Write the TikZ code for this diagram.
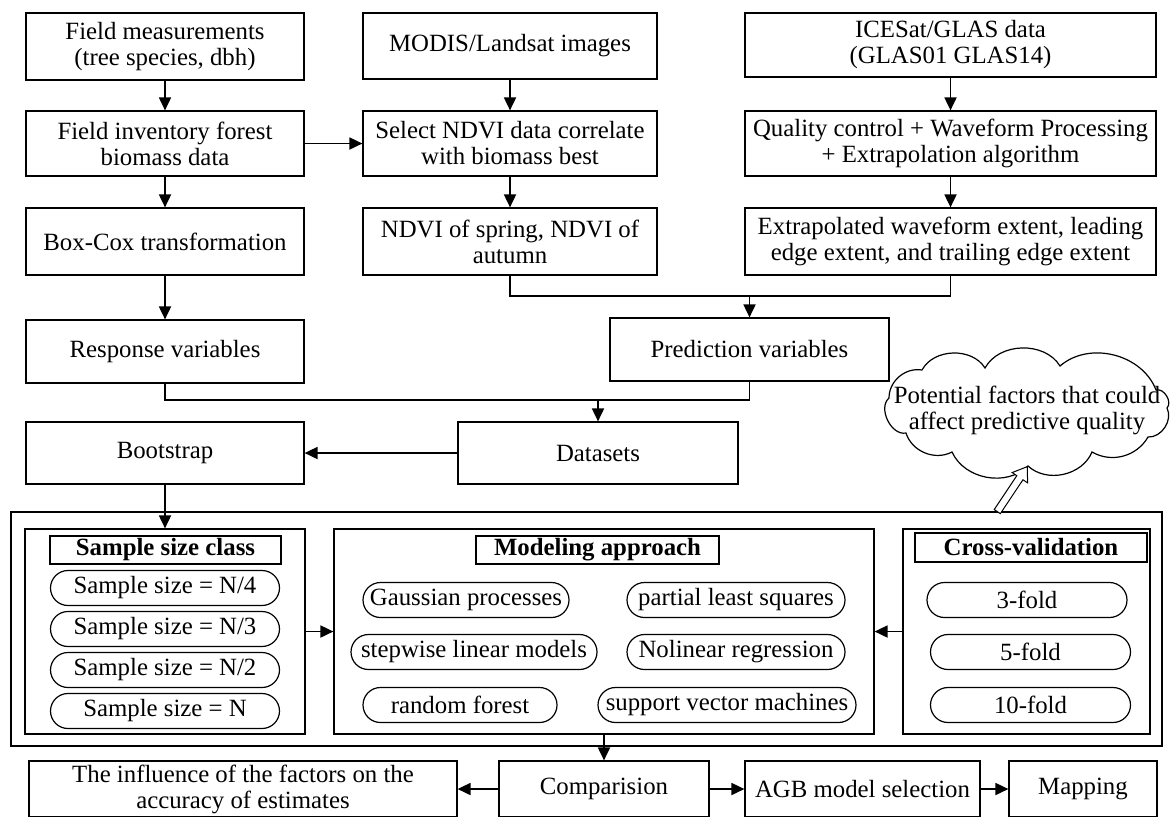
\documentclass[tikz,border=0pt]{standalone}
\usepackage{fontspec}
\setmainfont{Liberation Serif}
\usetikzlibrary{arrows.meta,shapes.misc,shapes.arrows}
\begin{document}
\begin{tikzpicture}[x=0.5pt,y=-0.5pt,
    every node/.style={font=\fontsize{12.4}{13}\selectfont},
    box/.style={draw,line width=0.6pt,inner sep=0pt,align=center},
    panel/.style={draw,line width=0.6pt,inner sep=0pt},
    head/.style={draw,line width=0.6pt,inner sep=0pt,minimum height=14pt,font=\fontsize{12.4}{13}\selectfont\bfseries},
    pill/.style={draw,rounded rectangle,line width=0.6pt,inner sep=0pt,minimum height=17.5pt},
    link/.style={line width=0.9pt},
    arr/.style={line width=0.9pt,-{Triangle[length=6.5pt,width=6pt]}}]
  \useasboundingbox (0,0) rectangle (1171,816);

  % first three rows
  \node[box,minimum width=139pt,minimum height=33.5pt] (meas) at (165,46.5) {Field measurements\\(tree species, dbh)};
  \node[box,minimum width=147pt,minimum height=33pt] (modis) at (510,46) {MODIS/Landsat images};
  \node[box,minimum width=205.5pt,minimum height=32pt] (glas) at (950.5,45) {ICESat/GLAS data\\(GLAS01 GLAS14)};

  \node[box,minimum width=139pt,minimum height=32.5pt] (inv) at (165,143.5) {Field inventory forest\\biomass data};
  \node[box,minimum width=147pt,minimum height=32.5pt] (sel) at (510,143.5) {Select NDVI data correlate\\with biomass best};
  \node[box,minimum width=205.5pt,minimum height=32.5pt] (qual) at (950.5,143.5) {Quality control + Waveform Processing\\+ Extrapolation algorithm};

  \node[box,minimum width=139pt,minimum height=33.5pt] (boxcox) at (165,241.5) {Box-Cox transformation};
  \node[box,minimum width=147pt,minimum height=33.5pt] (ndvi) at (510,241.5) {NDVI of spring, NDVI of\\autumn};
  \node[box,minimum width=205.5pt,minimum height=33.5pt] (extr) at (950.5,241.5) {Extrapolated waveform extent, leading\\edge extent, and trailing edge extent};

  % variables and datasets
  \node[box,minimum width=139pt,minimum height=31.5pt] (resp) at (165,351.5) {Response variables};
  \node[box,minimum width=139.5pt,minimum height=31.5pt] (pred) at (749.5,349.5) {Prediction variables};
  \node[box,minimum width=139pt,minimum height=31pt] (boot) at (165,453) {Bootstrap};
  \node[box,minimum width=140pt,minimum height=31pt] (data) at (598,453) {Datasets};

  \draw[arr] (meas) -- (inv);
  \draw[arr] (inv) -- (boxcox);
  \draw[arr] (boxcox) -- (resp);
  \draw[arr] (modis) -- (sel);
  \draw[arr] (sel) -- (ndvi);
  \draw[arr] (glas.south -| qual) -- (qual);
  \draw[arr] (qual) -- (extr);
  \draw[arr] (inv) -- (sel);

  \coordinate (j1) at (749.5,296);
  \coordinate (j2) at (598,400);
  \draw[link] (ndvi.south) |- (j1) -| (extr.south);
  \draw[arr] (j1) -- (pred);
  \draw[link] (resp.south) |- (j2) -| (pred.south);
  \draw[arr] (j2) -- (data);
  \draw[arr] (data) -- (boot);

  % modelling stage
  \node[panel,minimum width=575.5pt,minimum height=117pt] (stage) at (586.5,629) {};
  \node[panel,minimum width=140pt,minimum height=102.5pt] (sizes) at (165,631.5) {};
  \node[panel,minimum width=270pt,minimum height=102.5pt] (model) at (604,631.5) {};
  \node[panel,minimum width=123.5pt,minimum height=102.5pt] (cv) at (1026.5,631.5) {};

  \node[head,minimum width=115.5pt] (sizehead) at (165.5,550) {Sample size class};
  \node[pill,minimum width=114.5pt] (n4) at (165,588) {Sample size = N/4};
  \node[pill,minimum width=114.5pt] (n3) at (165,629) {Sample size = N/3};
  \node[pill,minimum width=114.5pt] (n2) at (165,670) {Sample size = N/2};
  \node[pill,minimum width=114.5pt] (n1) at (165,711) {Sample size = N};

  \node[head,minimum width=121.5pt] (modelhead) at (597.5,550) {Modeling approach};
  \node[pill,minimum width=103pt] (gp) at (466,600) {Gaussian processes};
  \node[pill,minimum width=109pt] (pls) at (736,600) {partial least squares};
  \node[pill,minimum width=123pt] (slm) at (474,652) {stepwise linear models};
  \node[pill,minimum width=109pt] (nlr) at (736,652) {Nolinear regression};
  \node[pill,minimum width=97pt] (rf) at (460,705) {random forest};
  \node[pill,minimum width=129pt] (svm) at (727,705) {support vector machines};

  \node[head,minimum width=116pt,minimum height=14.5pt] (cvhead) at (1031,547.5) {Cross-validation};
  \node[pill,minimum width=100pt] (f3) at (1027,600) {3-fold};
  \node[pill,minimum width=100pt] (f5) at (1030.5,652) {5-fold};
  \node[pill,minimum width=100pt] (f10) at (1030.5,705) {10-fold};

  \draw[arr] (boot) -- (sizes);
  \draw[arr] (sizes) -- (model);
  \draw[arr] (cv) -- (model);

  % factors cloud
  \draw[line width=0.6pt] (889,398) to[bend left=50] (922,370) to[bend left=60] (985,368)
    to[bend left=60] (1060,366) to[bend left=55] (1156,390) to[bend left=75] (1167,408)
    to[bend left=60] (1148,437) to[bend left=45] (1092,452) to[bend left=55] (1028,466)
    to[bend left=55] (952,452) to[bend left=50] (906,433) to[bend left=75] cycle;
  \node[align=center] (factors) at (1027,410) {Potential factors that could\\affect predictive quality};
  \coordinate (lift) at (997,512);
  \node[draw,single arrow,fill=white,line width=0.5pt,inner sep=1.6pt,minimum height=27pt,
        single arrow head extend=2.8pt,single arrow tip angle=70,rotate=56.3,anchor=tail] (hint) at (lift) {};

  % bottom row
  \node[box,minimum width=214pt,minimum height=28pt] (infl) at (243,789) {The influence of the factors on the\\accuracy of estimates};
  \node[box,minimum width=105pt,minimum height=28pt] (comp) at (604,789) {Comparision};
  \node[box,minimum width=117.5pt,minimum height=28pt] (agb) at (862.5,789) {AGB model selection};
  \node[box,minimum width=74pt,minimum height=28pt] (map) at (1083,789) {Mapping};

  \draw[arr] (model) -- (comp);
  \draw[arr] (comp) -- (infl);
  \draw[arr] (comp) -- (agb);
  \draw[arr] (agb) -- (map);
\end{tikzpicture}
\end{document}
